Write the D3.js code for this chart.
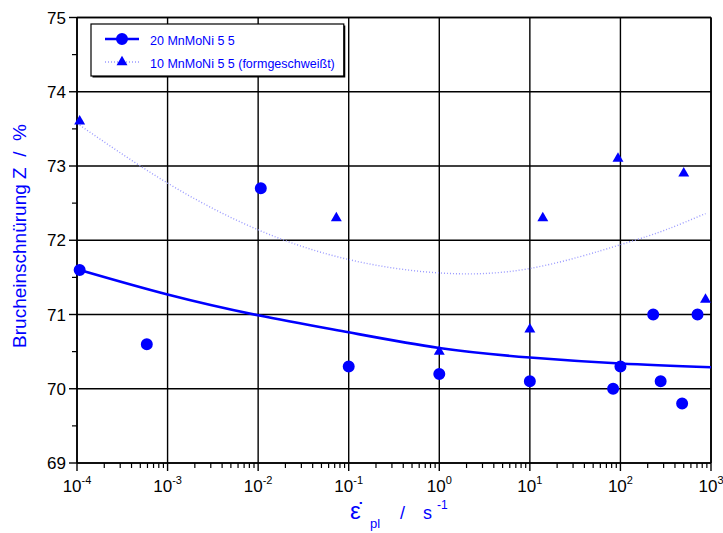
<!DOCTYPE html>
<html>
<head>
<meta charset="utf-8">
<script src="https://cdn.jsdelivr.net/npm/d3@7"></script>
<style>
  body { margin: 0; background: #fff; }
  svg { display: block; }
  text { font-family: "Liberation Sans", Arial, Helvetica, sans-serif; }
</style>
</head>
<body>
<svg id="chart" width="723" height="533"></svg>
<script>
// Reduction of area Z (%) vs. plastic strain rate (1/s)
const seriesNames = ["20 MnMoNi 5 5", "10 MnMoNi 5 5 (formgeschweißt)"];

// 20 MnMoNi 5 5 (circles)
const rateA = [1.07e-4, 5.9e-4, 1.07e-2, 0.1, 1.0, 10, 83, 100, 230, 278, 480, 710];
const zA    = [71.6,    70.6,   72.7,    70.3, 70.2, 70.1, 70.0, 70.3, 71.0, 70.1, 69.8, 71.0];

// 10 MnMoNi 5 5, formgeschweißt (triangles)
const rateB = [1.07e-4, 0.073, 1.0,  10,   13.9, 94,   500,  870];
const zB    = [73.6,    72.3,  70.5, 70.8, 72.3, 73.1, 72.9, 71.2];

// Trend curves, sampled per decade (log10 of strain rate)
const fitLogA = [-3.97, -3, -2, -1, 0, 1, 2, 3];
const fitZA   = [71.6, 71.27, 70.99, 70.76, 70.55, 70.42, 70.34, 70.29];
const fitLogB = [-3.97, -3, -2, -1, 0, 1, 2, 2.5, 2.94];
const fitZB   = [73.55, 72.77, 72.14, 71.74, 71.56, 71.62, 71.94, 72.14, 72.36];

// Axis ticks
const xExponents = [-4, -3, -2, -1, 0, 1, 2, 3];
const yTicks = [69, 70, 71, 72, 73, 74, 75];
const yMinorTicks = [69.5, 70.5, 71.5, 72.5, 73.5, 74.5];

const blue = "#0000ff";
const svg = d3.select("#chart");
const pL = 77, pR = 711, pT = 17.5, pB = 463;

const x = d3.scaleLog().domain([1e-4, 1e3]).range([pL, pR]);
const y = d3.scaleLinear().domain([69, 75]).range([pB, pT]);

// Grid
const grid = svg.append("g").attr("stroke", "#000").attr("stroke-width", 1.4);
grid.selectAll("line.v").data(xExponents).join("line").attr("class", "v")
  .attr("x1", d => x(Math.pow(10, d))).attr("x2", d => x(Math.pow(10, d)))
  .attr("y1", pT).attr("y2", pB);
grid.selectAll("line.h").data(yTicks).join("line").attr("class", "h")
  .attr("x1", pL).attr("x2", pR)
  .attr("y1", d => y(d)).attr("y2", d => y(d));

// Minor x ticks (2..9 per decade)
const minorX = [];
xExponents.slice(0, -1).forEach(e => { for (let k = 2; k <= 9; k++) minorX.push(k * Math.pow(10, e)); });

// Bottom axis
const xAxis = svg.append("g").attr("transform", `translate(0,${pB})`);
xAxis.append("line").attr("x1", pL).attr("x2", pR).attr("stroke", "#000").attr("stroke-width", 1.6);
xAxis.selectAll("line.maj").data(xExponents).join("line").attr("class", "maj")
  .attr("x1", d => x(Math.pow(10, d))).attr("x2", d => x(Math.pow(10, d)))
  .attr("y1", 0).attr("y2", 8).attr("stroke", "#000").attr("stroke-width", 1.4);
xAxis.selectAll("line.min").data(minorX).join("line").attr("class", "min")
  .attr("x1", d => x(d)).attr("x2", d => x(d))
  .attr("y1", 0).attr("y2", 5).attr("stroke", "#000").attr("stroke-width", 1.2);
const xl = xAxis.selectAll("text").data(xExponents).join("text")
  .attr("x", d => x(Math.pow(10, d))).attr("y", 29)
  .attr("text-anchor", "middle").attr("font-size", 17).attr("fill", "#000");
xl.append("tspan").text("10");
xl.append("tspan").attr("dy", -8).attr("font-size", 11).text(d => d);

// Left axis
const yAxis = svg.append("g").attr("transform", `translate(${pL},0)`);
yAxis.append("line").attr("y1", pT).attr("y2", pB).attr("stroke", "#000").attr("stroke-width", 1.6);
yAxis.selectAll("line.maj").data(yTicks).join("line").attr("class", "maj")
  .attr("x1", -8).attr("x2", 0).attr("y1", d => y(d)).attr("y2", d => y(d))
  .attr("stroke", "#000").attr("stroke-width", 1.4);
yAxis.selectAll("line.min").data(yMinorTicks).join("line").attr("class", "min")
  .attr("x1", -5).attr("x2", 0).attr("y1", d => y(d)).attr("y2", d => y(d))
  .attr("stroke", "#000").attr("stroke-width", 1.2);
yAxis.selectAll("text").data(yTicks).join("text")
  .attr("x", -11).attr("y", d => y(d)).attr("dy", "0.36em")
  .attr("text-anchor", "end").attr("font-size", 17).attr("fill", "#000")
  .text(d => d);

// Plot frame top/right
svg.append("line").attr("x1", pL).attr("x2", pR).attr("y1", pT).attr("y2", pT)
  .attr("stroke", "#000").attr("stroke-width", 1.6);
svg.append("line").attr("x1", pR).attr("x2", pR).attr("y1", pT).attr("y2", pB)
  .attr("stroke", "#000").attr("stroke-width", 1.6);

// Trend curves
const lineGen = d3.line().x(d => x(Math.pow(10, d[0]))).y(d => y(d[1])).curve(d3.curveNatural);
svg.append("path").datum(fitLogB.map((t, i) => [t, fitZB[i]]))
  .attr("d", lineGen).attr("fill", "none").attr("stroke", "#9a9aff")
  .attr("stroke-width", 1.4).attr("stroke-dasharray", "1,2");
svg.append("path").datum(fitLogA.map((t, i) => [t, fitZA[i]]))
  .attr("d", lineGen).attr("fill", "none").attr("stroke", blue).attr("stroke-width", 2.6);

// Markers
const circleSym = d3.symbol().type(d3.symbolCircle).size(113);
const triSym = d3.symbol().type(d3.symbolTriangle).size(52);
svg.append("g").selectAll("path").data(rateA.map((r, i) => [r, zA[i]])).join("path")
  .attr("d", circleSym).attr("fill", blue)
  .attr("transform", d => `translate(${x(d[0])},${y(d[1])})`);
svg.append("g").selectAll("path").data(rateB.map((r, i) => [r, zB[i]])).join("path")
  .attr("d", triSym).attr("fill", blue)
  .attr("transform", d => `translate(${x(d[0])},${y(d[1])})`);

// Legend
const lg = svg.append("g");
const lx = 91, ly = 24, lh = 52;
const shadow = lg.append("rect").attr("x", lx + 1.5).attr("y", ly + 1.5).attr("height", lh).attr("fill", "#000");
const box = lg.append("rect").attr("x", lx).attr("y", ly).attr("height", lh)
  .attr("fill", "#fff").attr("stroke", "#000").attr("stroke-width", 1.2);
lg.append("line").attr("x1", 105).attr("x2", 139).attr("y1", 39).attr("y2", 39)
  .attr("stroke", blue).attr("stroke-width", 2.6);
lg.append("path").attr("d", circleSym).attr("fill", blue).attr("transform", "translate(122,39)");
lg.append("line").attr("x1", 105).attr("x2", 139).attr("y1", 62).attr("y2", 62)
  .attr("stroke", "#9a9aff").attr("stroke-width", 1.4).attr("stroke-dasharray", "1,2");
lg.append("path").attr("d", triSym).attr("fill", blue).attr("transform", "translate(122,62)");
const t1 = lg.append("text").attr("x", 150).attr("y", 44.5).attr("font-size", 12.5).attr("fill", blue).text(seriesNames[0]);
const t2 = lg.append("text").attr("x", 150).attr("y", 67.5).attr("font-size", 12.5).attr("fill", blue).text(seriesNames[1]);
const tw = Math.max(t1.node().getComputedTextLength(), t2.node().getComputedTextLength());
box.attr("width", 150 + tw + 9 - lx);
shadow.attr("width", 150 + tw + 9 - lx);

// Axis titles
svg.append("text")
  .attr("transform", "translate(26,236) rotate(-90)")
  .attr("text-anchor", "middle").attr("font-size", 19).attr("fill", blue)
  .attr("xml:space", "preserve")
  .text("Brucheinschnürung Z  /  %");

const xTitle = svg.append("g").attr("fill", blue);
xTitle.append("text").attr("x", 350).attr("y", 519).attr("font-size", 24).text("\u03B5\u0307");
xTitle.append("text").attr("x", 370).attr("y", 528).attr("font-size", 13).text("pl");
xTitle.append("text").attr("x", 400).attr("y", 519).attr("font-size", 18).text("/");
xTitle.append("text").attr("x", 423).attr("y", 519).attr("font-size", 18).text("s");
xTitle.append("text").attr("x", 437).attr("y", 509).attr("font-size", 12).text("-1");
</script>
</body>
</html>
